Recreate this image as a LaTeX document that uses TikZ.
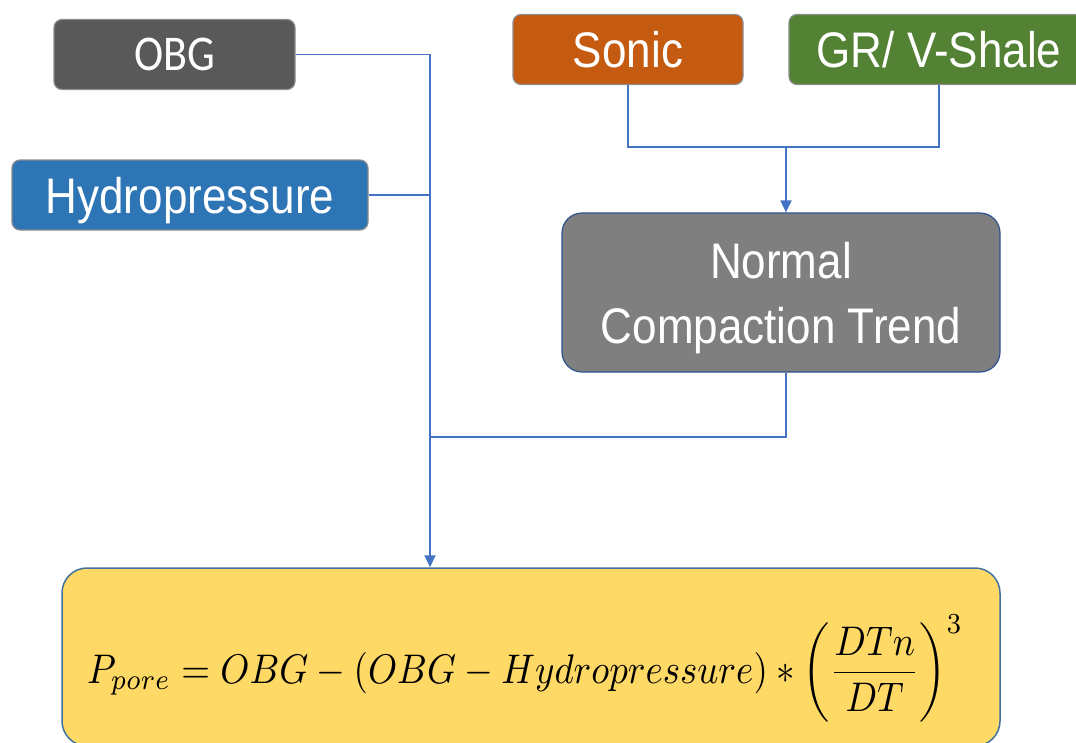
\documentclass[tikz,border=0pt]{standalone}
\usepackage[no-math]{fontspec}
\usepackage{graphicx}
\setmainfont{Liberation Sans}
\newfontfamily\labfont[FakeStretch=0.88]{Liberation Sans}
\newfontfamily\obgfont[FakeStretch=0.88]{Carlito}
\usetikzlibrary{arrows.meta}
\definecolor{cOBG}{HTML}{595959}
\definecolor{cHyd}{HTML}{2E75B6}
\definecolor{cSon}{HTML}{C55A11}
\definecolor{cGR}{HTML}{548235}
\definecolor{cNCT}{HTML}{7F7F7F}
\definecolor{cNCTb}{HTML}{2F528F}
\definecolor{cF}{HTML}{FFD966}
\definecolor{cFb}{HTML}{41719C}
\definecolor{cLine}{HTML}{4472C4}
\definecolor{cEdge}{HTML}{8C8C8C}
\tikzset{
  lbl/.style={draw=cEdge, line width=1.2pt, rounded corners=8pt, text=white,
    font=\labfont\fontsize{50}{60}\selectfont, text height=36pt, text depth=0pt,
    inner sep=0pt},
  conn/.style={draw=cLine, line width=1.8pt},
  arr/.style={-{Triangle[width=11pt,length=12pt]}},
}
\begin{document}
\begin{tikzpicture}[x=1pt,y=-1pt]
\useasboundingbox (0,0) rectangle (1076,742);
\node[lbl, fill=cOBG, minimum width=241pt, minimum height=70pt,
  font=\obgfont\fontsize{50}{60}\selectfont, text height=32pt] (obg) at (174.5,54.5) {OBG};
\node[lbl, fill=cHyd, minimum width=356pt, minimum height=70pt] (hyd) at (190,195) {Hydropressure};
\node[lbl, fill=cSon, minimum width=230pt, minimum height=70pt] (son) at (628,49.5) {Sonic};
\node[lbl, fill=cGR, minimum width=300pt, minimum height=70pt] (gr) at (939,49.5) {GR/ V-Shale};
\node[lbl, draw=cNCTb, fill=cNCT, rounded corners=20pt, minimum width=438pt, minimum height=159pt,
  align=center, text height=101pt, text depth=0pt,
  font=\labfont\fontsize{50}{65}\selectfont] (nct) at (781,292.5) {Normal\\Compaction Trend};
\node[draw=cFb, fill=cF, line width=1.5pt, rounded corners=25pt, minimum width=938pt,
  minimum height=178pt, inner sep=0pt] (formula) at (531,657) {};
\node[anchor=base west, inner sep=0pt] (eq) at (87,683)
  {\scalebox{1}[1.12]{\resizebox{876pt}{!}{$P_{pore}=OBG-(OBG-Hydropressure)\ast\left(\displaystyle\frac{DTn}{DT}\right)^{3}$}}};
\coordinate (bus) at (430,0);
\coordinate (m) at (786,147);
\coordinate (n) at (786,437);
\draw[conn, arr] (obg.east) -| (bus |- formula.north);
\draw[conn] (hyd.east) -- (hyd.east -| bus);
\draw[conn] (son.south) |- (m) -| (gr.south);
\draw[conn, arr] (m) -- (m |- nct.north);
\draw[conn] (nct.south -| n) -- (n) -- (n -| bus);
\end{tikzpicture}
\end{document}
